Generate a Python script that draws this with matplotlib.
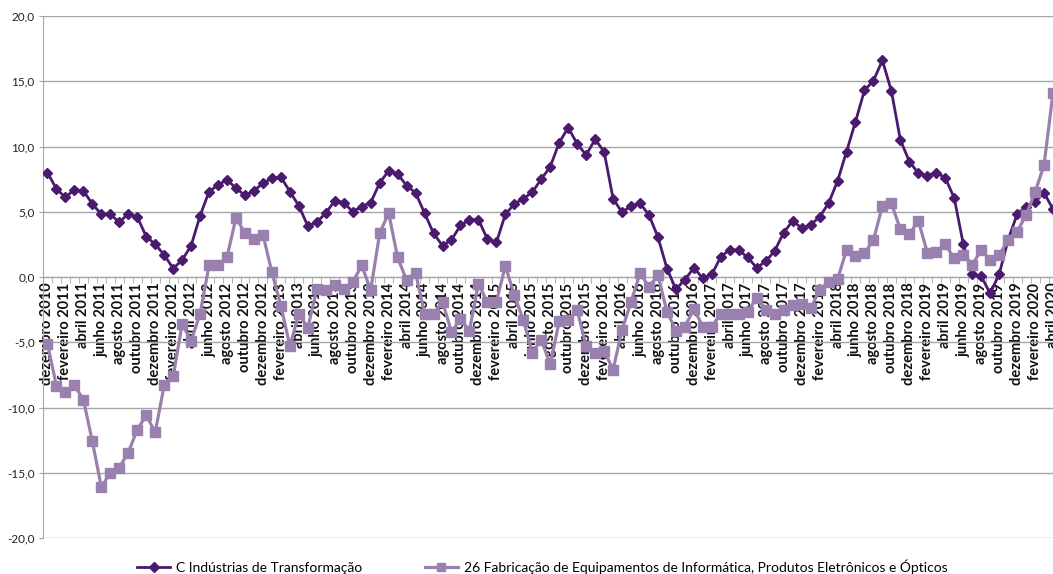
import numpy as np
import matplotlib.pyplot as plt
from matplotlib.ticker import FixedLocator

# Monthly series, dezembro 2010 .. abril 2020
industria = [
    8.0, 6.75, 6.1, 6.7, 6.6, 5.6, 4.8, 4.8, 4.2, 4.85, 4.6, 3.1, 2.5,
    1.7, 0.65, 1.3, 2.4, 4.7, 6.55, 7.05, 7.45, 6.8, 6.25, 6.6, 7.2,
    7.55, 7.65, 6.55, 5.45, 3.9, 4.2, 4.9, 5.85, 5.7, 5.0, 5.4, 5.7,
    7.2, 8.15, 7.9, 7.0, 6.45, 4.9, 3.35, 2.4, 2.85, 3.95, 4.4, 4.4,
    2.9, 2.65, 4.8, 5.6, 6.0, 6.5, 7.5, 8.45, 10.3, 11.45, 10.2, 9.35,
    10.55, 9.6, 6.0, 4.95, 5.45, 5.65, 4.75, 3.05, 0.65, -0.95, -0.2, 0.7,
    -0.1, 0.2, 1.55, 2.1, 2.05, 1.5, 0.7, 1.2, 2.0, 3.4, 4.3, 3.75,
    4.0, 4.6, 5.65, 7.35, 9.6, 11.9, 14.3, 15.05, 16.6, 14.25, 10.5, 8.85,
    7.95, 7.75, 8.0, 7.6, 6.05, 2.55, 0.25, 0.05, -1.25, 0.2, 2.85, 4.8,
    5.4, 5.75, 6.45, 5.2,
]
informatica = [
    -5.15, -8.35, -8.8, -8.3, -9.4, -12.6, -16.1, -15.0, -14.6, -13.45, -11.7, -10.6, -11.9,
    -8.3, -7.6, -3.6, -4.9, -2.8, 0.9, 0.9, 1.55, 4.55, 3.35, 2.95, 3.25,
    0.35, -2.2, -5.3, -2.8, -3.9, -0.9, -1.0, -0.6, -0.9, -0.4, 0.9, -1.0,
    3.35, 4.9, 1.5, -0.25, 0.3, -2.8, -2.8, -1.9, -4.2, -3.25, -4.1, -0.5,
    -1.95, -1.9, 0.85, -1.4, -3.3, -5.8, -4.8, -6.7, -3.4, -3.3, -2.55, -5.3,
    -5.8, -5.65, -7.1, -4.05, -1.9, 0.28, -0.75, 0.12, -2.65, -4.1, -3.8, -2.45,
    -3.8, -3.8, -2.8, -2.8, -2.85, -2.65, -1.6, -2.5, -2.85, -2.5, -2.15, -2.1,
    -2.4, -1.0, -0.36, -0.18, 2.07, 1.63, 1.81, 2.84, 5.44, 5.64, 3.65, 3.27,
    4.32, 1.87, 1.94, 2.5, 1.43, 1.69, 0.92, 2.07, 1.3, 1.69, 2.84, 3.47,
    4.75, 6.49, 8.58, 14.1,
]
meses = ['janeiro', 'fevereiro', 'março', 'abril', 'maio', 'junho', 'julho',
         'agosto', 'setembro', 'outubro', 'novembro', 'dezembro']
categorias = [f'{meses[(11 + k) % 12]} {2010 + (11 + k) // 12}' for k in range(len(industria))]

dark = '#4a1a6e'
light = '#9a80ae'
grid_c = '#a6a6a6'

fig = plt.figure(figsize=(10.53, 5.74), dpi=100)
ax = fig.add_axes([43 / 1053, 1 - 538 / 574, 1 - 43 / 1053, (538 - 16) / 574])

x = np.arange(len(industria))
ax.plot(x, industria, color=dark, lw=2, marker='D', ms=5.5, zorder=3,
        label='C Indústrias de Transformação')
ax.plot(x, informatica, color=light, lw=2.3, marker='s', ms=6.5, zorder=4,
        label='26 Fabricação de Equipamentos de Informática, Produtos Eletrônicos e Ópticos')

ax.set_xlim(-0.5, 111.8)
ax.set_ylim(-20, 20)
yt = np.arange(-20, 21, 5)
ax.set_yticks(yt)
ax.set_yticklabels([f'{v:.1f}'.replace('.', ',') for v in yt],
                   fontsize=8.5, color='#222222', family=['Lato', 'DejaVu Sans'])
ax.yaxis.grid(True, color=grid_c, lw=1)
ax.set_axisbelow(True)
ax.tick_params(axis='y', length=3, color=grid_c, pad=3)

for s in ['top', 'right']:
    ax.spines[s].set_visible(False)
ax.spines['left'].set_color(grid_c)
ax.spines['bottom'].set_position(('data', 0))
ax.spines['bottom'].set_color(grid_c)

ax.set_xticks(x[::2])
ax.set_xticklabels(categorias[::2], rotation=90, fontsize=10.5, fontweight='bold',
                   family=['Lato', 'DejaVu Sans'], color='#111111')
ax.xaxis.set_minor_locator(FixedLocator(np.arange(-0.5, len(x), 1)))
ax.tick_params(axis='x', which='major', length=0, pad=4)
ax.tick_params(axis='x', which='minor', length=4, color=grid_c)

fig.legend(loc='lower center', bbox_to_anchor=(0.515, -0.022), ncol=2, frameon=False,
           prop={'family': ['Lato', 'DejaVu Sans'], 'size': 10},
           handlelength=2.4, columnspacing=4.5, handletextpad=0.4, markerscale=0.9)

fig.savefig('out.png', dpi=100)
